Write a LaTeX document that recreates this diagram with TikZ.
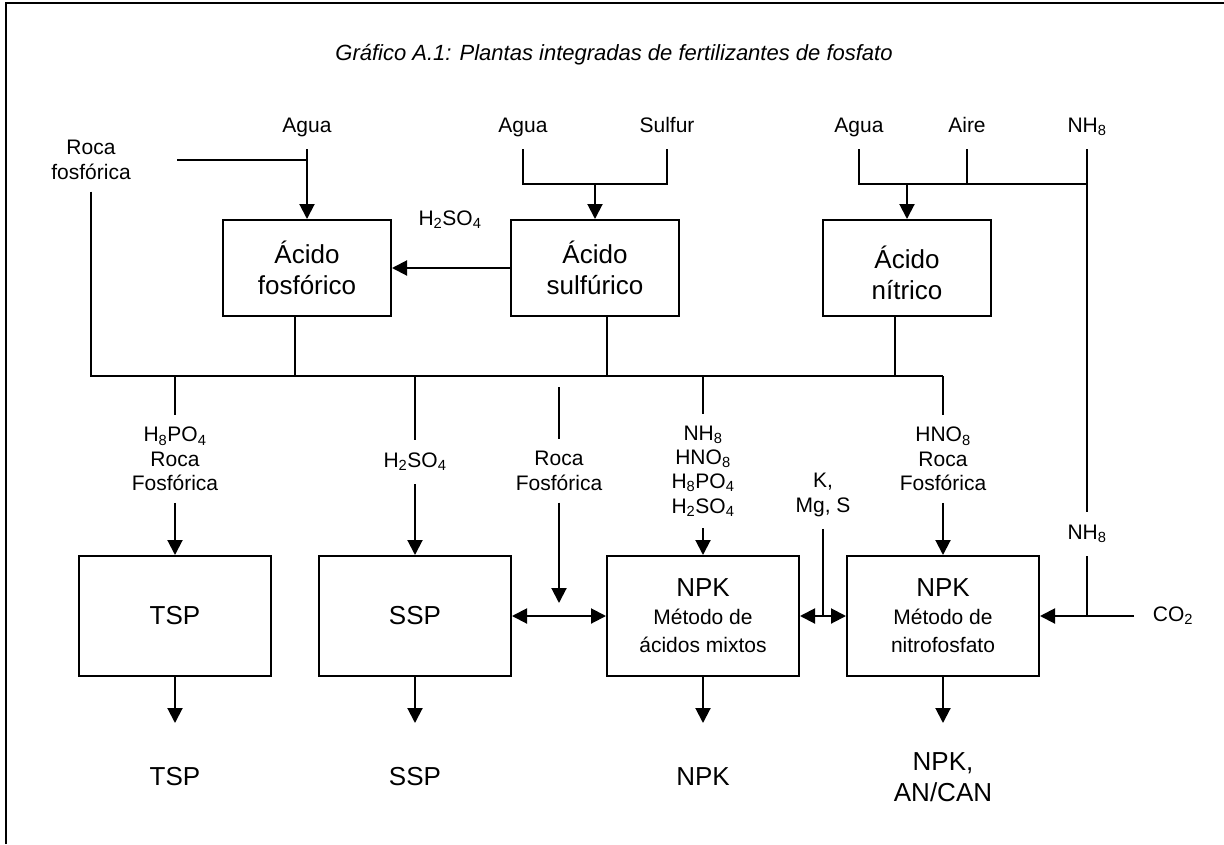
\documentclass[tikz,border=0pt]{standalone}
\usepackage{fontspec}
\setmainfont{Liberation Sans}
\usetikzlibrary{arrows.meta,calc}
\tikzstyle{unit}=[draw, line width=2pt, align=center,
    minimum width=168pt, minimum height=96pt, font=\fontsize{26}{31}\selectfont]
\tikzstyle{plant}=[draw, line width=2pt, align=center,
    minimum width=192pt, minimum height=120pt, font=\fontsize{26}{28}\selectfont]
\tikzstyle{lbl}=[align=center, inner xsep=2pt, inner ysep=12pt,
    font=\fontsize{21}{24.3}\selectfont]
\tikzstyle{inp}=[lbl, text height=15pt, text depth=5pt]
\tikzstyle{prod}=[align=center, font=\fontsize{26}{31}\selectfont]
\tikzstyle{flow}=[line width=2pt, >={Triangle[length=15pt,width=15pt]}]
\newcommand{\sml}{\fontsize{21}{24}\selectfont}
\newcommand{\sub}[1]{\textsubscript{#1}}
\def\busy{376}

\begin{document}
\begin{tikzpicture}[x=1pt,y=-1pt]
    \useasboundingbox (0,0) rectangle (1224,844);
    \draw[line width=2.5pt] (6,844) -- (6,3) -- (1224,3);
    \node (title) at (614,55) {\fontsize{22}{26}\selectfont\itshape Gráfico A.1: Plantas integradas de fertilizantes de fosfato};

    % acid plants
    \node (fosf) [unit] at (307,268) {Ácido\\fosfórico};
    \node (sulf) [unit] at (595,268) {Ácido\\sulfúrico};
    \node (nitr) [unit] at (907,268) {\rule{0pt}{32pt}Ácido\\nítrico};

    % raw materials
    \node (roca) [lbl] at (91,160) {Roca\\fosfórica};
    \node (agua1) [inp] at (307,127) {Agua};
    \node (agua2) [inp] at (523,127) {Agua};
    \node (sulfur) [inp] at (667,127) {Sulfur};
    \node (agua3) [inp] at (859,127) {Agua};
    \node (aire) [inp] at (967,127) {Aire};
    \node (nh3t) [inp] at (1087,127) {NH\sub{8}};
    \node (h2so4) [inp] at (450,220) {H\sub{2}SO\sub{4}};

    % fertilizer plants
    \node (tsp) [plant] at (175,616) {TSP};
    \node (ssp) [plant] at (415,616) {SSP};
    \node (mix) [plant] at (703,616) {NPK\\{\sml Método de}\\{\sml ácidos mixtos}};
    \node (nph) [plant] at (943,616) {NPK\\{\sml Método de}\\{\sml nitrofosfato}};

    % feeds
    \node (lTSP) [lbl] at (175,459) {H\sub{8}PO\sub{4}\\Roca\\Fosfórica};
    \node (lSSP) [inp] at (415,462) {H\sub{2}SO\sub{4}};
    \node (lRoca) [lbl] at (559,471) {Roca\\Fosfórica};
    \node (lMix) [lbl] at (703,471) {NH\sub{8}\\HNO\sub{8}\\H\sub{8}PO\sub{4}\\H\sub{2}SO\sub{4}};
    \node (lNph) [lbl] at (943,459) {HNO\sub{8}\\Roca\\Fosfórica};
    \node (kmgs) [lbl] at (823,495) {K,\\Mg, S};
    \node (nh3b) [inp] at (1087,534) {NH\sub{8}};
    \node (co2) [inp] at (1173,616) {CO\sub{2}};

    % products
    \node (pTSP) [prod] at (175,777) {TSP};
    \node (pSSP) [prod] at (415,777) {SSP};
    \node (pMix) [prod] at (703,777) {NPK};
    \node (pNph) [prod] at (943,777) {NPK,\\AN/CAN};

    \coordinate (rocaIn) at (177,160);
    \coordinate (jS) at (595,184);
    \coordinate (jN) at (907,184);
    \coordinate (busR) at (943,\busy);
    \coordinate (tFosf) at (295,\busy);
    \coordinate (tSulf) at (607,\busy);
    \coordinate (tNitr) at (895,\busy);
    \coordinate (bTSP) at (175,\busy);
    \coordinate (bSSP) at (415,\busy);
    \coordinate (bMix) at (703,\busy);
    \coordinate (rocaTop) at (559,387);
    \coordinate (rocaEnd) at (559,603);
    \coordinate (co2In) at (1134,616);
    \coordinate (outEnd) at (0,723);

    % acid section
    \draw[flow,->] (agua1) -- (fosf);
    \draw[flow] (rocaIn) -- (rocaIn -| agua1);
    \draw[flow,->] (sulf) -- (fosf);
    \draw[flow] (agua2.south) |- (jS) -| (sulfur.south);
    \draw[flow,->] (jS) -- (sulf);
    \draw[flow] (agua3.south) |- (jN -| nh3t.south);
    \draw[flow] (aire.south) -- (aire.south |- jN);
    \draw[flow,->] (jN) -- (nitr);
    \draw[flow] (nh3t.south) -- (nh3b.north);
    \draw[flow] (nh3b.south) -- (nh3b.south |- nph.east);
    \draw[flow,->] (co2In) -- (nph.east);

    % bus
    \draw[flow] (roca.south) |- (busR);
    \foreach \u/\c in {fosf/tFosf, sulf/tSulf, nitr/tNitr}
        \draw[flow] (\u.south -| \c) -- (\c);
    \foreach \b/\l in {bTSP/lTSP, bSSP/lSSP, bMix/lMix, busR/lNph}
        \draw[flow] (\b) -- (\l.north);
    \foreach \l/\p in {lTSP/tsp, lSSP/ssp, lMix/mix, lNph/nph}
        \draw[flow,->] (\l.south) -- (\p.north);
    \draw[flow] (rocaTop) -- (lRoca.north);
    \draw[flow,->] (lRoca.south) -- (rocaEnd);
    \draw[flow,<->] (ssp) -- (mix);
    \draw[flow,<->] (mix) -- (nph);
    \draw[flow] (kmgs.south) -- (kmgs.south |- mix.east);
    \foreach \p in {tsp,ssp,mix,nph}
        \draw[flow,->] (\p.south) -- (\p.south |- outEnd);
\end{tikzpicture}
\end{document}
